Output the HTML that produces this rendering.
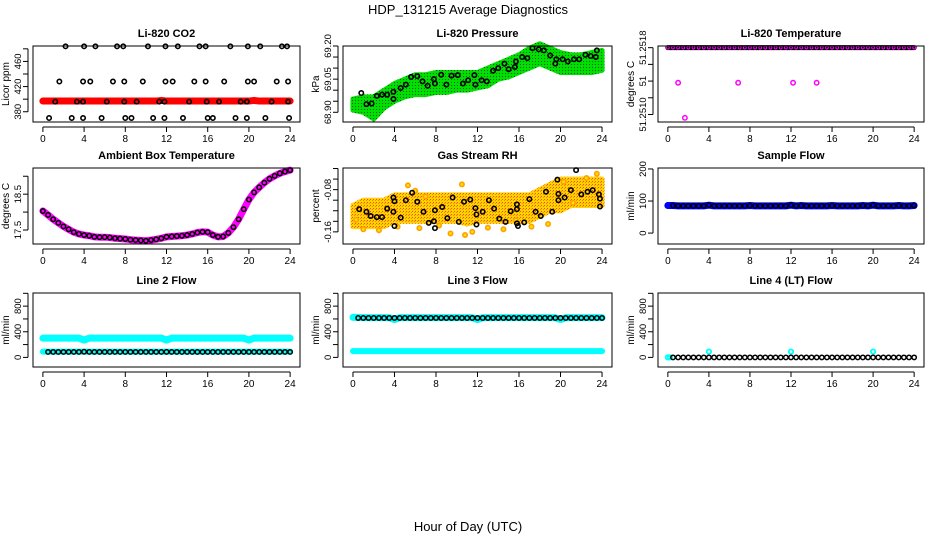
<!DOCTYPE html>
<html><head><meta charset="utf-8"><style>
body{margin:0;background:#fff;}
svg{display:block;font-family:"Liberation Sans",sans-serif;}
</style></head><body>
<svg id="c" width="936" height="540" viewBox="0 0 936 540" xmlns="http://www.w3.org/2000/svg">
<text x="468" y="14" text-anchor="middle" font-size="13">HDP_131215  Average Diagnostics</text>
<text x="468" y="531" text-anchor="middle" font-size="13">Hour of Day (UTC)</text>
</svg>
<script>
// ---------- data ----------
const xTicks = [0,4,8,12,16,20,24];
const halfHours = [0,0.5,1,1.5,2,2.5,3,3.5,4,4.5,5,5.5,6,6.5,7,7.5,8,8.5,9,9.5,10,10.5,11,11.5,12,12.5,13,13.5,14,14.5,15,15.5,16,16.5,17,17.5,18,18.5,19,19.5,20,20.5,21,21.5,22,22.5,23,23.5,24];
const hours = [0,1,2,3,4,5,6,7,8,9,10,11,12,13,14,15,16,17,18,19,20,21,22,23,24];

// CO2
const co2RedVals = [397,397,397,397,397,397,397,397,397,397,397,397,397,397,397,397,397,397,397,397,397,397,397,398,397,397,397,397,397,397,397,397,397,397,397,397,397,397,397,397,397,398,397,397,397,397,397,397,397];
const co2BlkHours = [2.2,4.0,5.1,7.2,7.8,10.2,11.9,13.1,15.2,15.8,18.2,19.9,21.1,23.2,23.7, 1.6,3.9,4.6,6.8,7.9,9.7,11.9,12.6,14.7,15.8,17.6,19.9,20.5,22.7,23.8, 1.2,3.3,3.9,6.2,7.9,9.1,11.3,11.8,14.2,15.9,17.1,19.2,19.8,22.2,23.8, 0.6,2.8,3.9,5.7,8.0,8.6,10.7,11.8,13.6,16.0,16.5,18.7,19.8,21.6,23.9];
const co2BlkVals = [484,484,484,484,484,484,484,484,484,484,484,484,484,484,484, 428,428,428,428,428,428,428,428,428,428,428,428,428,428,428, 396,396,396,396,396,396,396,396,396,396,396,396,396,396,396, 370,370,370,370,370,370,370,370,370,370,370,370,370,370,370];
const co2Ticks = [380,400,420,440,460,480];
const co2Labels = ["380","","420","","460",""];

// Pressure
const presLo = [68.91,68.90,68.87,68.92,68.95,68.97,68.98,68.98,68.99,68.99,69.00,69.00,69.01,69.02,69.05,69.06,69.08,69.10,69.12,69.10,69.08,69.08,69.08,69.08,69.09];
const presHi = [68.96,68.97,68.97,69.00,69.03,69.05,69.07,69.07,69.08,69.08,69.08,69.08,69.08,69.10,69.12,69.14,69.16,69.19,69.21,69.19,69.17,69.16,69.16,69.17,69.18];
const presBlkHours = [0.8,1.3,1.8,2.3,2.8,3.3,3.9,3.9,4.6,5.1,5.6,6.2,6.7,7.2,7.8,7.9,8.5,9.0,9.5,10.1,10.6,11.1,11.7,11.8,12.4,12.9,13.5,14.0,14.6,15.0,15.6,15.7,16.3,16.8,17.3,17.9,18.4,19.0,19.5,19.6,20.2,20.7,21.3,21.8,22.4,22.9,23.4,23.5];
const presBlkVals = [68.987,68.937,68.94,68.974,68.98,68.98,68.993,68.96,69.01,69.025,69.06,69.063,69.04,69.02,69.05,69.03,69.07,69.025,69.066,69.068,69.03,69.045,69.068,69.025,69.045,69.04,69.088,69.10,69.12,69.095,69.105,69.13,69.15,69.145,69.19,69.185,69.18,69.157,69.12,69.14,69.14,69.13,69.14,69.14,69.16,69.155,69.15,69.18];
const presTicks = [68.90,68.95,69.00,69.05,69.10,69.15,69.20];
const presLabels = ["68.90","","","69.05","","","69.20"];

// Li-820 temperature
const tempMainVals = [51.2518,51.2518,51.2518,51.2518,51.2518,51.2518,51.2518,51.2518,51.2518,51.2518,51.2518,51.2518,51.2518,51.2518,51.2518,51.2518,51.2518,51.2518,51.2518,51.2518,51.2518,51.2518,51.2518,51.2518,51.2518,51.2518,51.2518,51.2518,51.2518,51.2518,51.2518,51.2518,51.2518,51.2518,51.2518,51.2518,51.2518,51.2518,51.2518,51.2518,51.2518,51.2518,51.2518,51.2518,51.2518,51.2518,51.2518,51.2518,51.2518];
const tempOutHours = [1.0,6.85,12.2,14.5,1.66];
const tempOutVals = [51.25138,51.25138,51.25138,51.25138,51.25096];
const tempTicks = [51.2510,51.2512,51.2514,51.2516,51.2518];
const tempLabels = ["51.2510","","51","","51.2518"];

// Ambient box temperature
const ambVals = [18.03,17.92,17.80,17.70,17.60,17.52,17.44,17.39,17.36,17.34,17.31,17.30,17.30,17.29,17.27,17.26,17.25,17.23,17.22,17.21,17.20,17.22,17.24,17.27,17.31,17.32,17.33,17.34,17.36,17.39,17.43,17.45,17.44,17.36,17.31,17.32,17.42,17.58,17.80,18.08,18.35,18.55,18.69,18.82,18.93,19.01,19.08,19.13,19.17];
const ambTicks = [17.5,18.0,18.5,19.0];
const ambLabels = ["17.5","","18.5",""];

// RH
const rhLo = [-0.15,-0.15,-0.15,-0.15,-0.14,-0.14,-0.14,-0.14,-0.14,-0.14,-0.14,-0.145,-0.14,-0.14,-0.14,-0.14,-0.14,-0.14,-0.13,-0.12,-0.12,-0.11,-0.11,-0.11,-0.11];
const rhHi = [-0.11,-0.10,-0.10,-0.10,-0.09,-0.09,-0.09,-0.09,-0.09,-0.09,-0.09,-0.09,-0.09,-0.09,-0.09,-0.09,-0.09,-0.09,-0.08,-0.07,-0.06,-0.06,-0.06,-0.06,-0.06];
const rhOutHours = [0.3,1.0,2.5,4.3,5.3,6.4,7.0,8.3,9.4,10.5,11.5,13.0,14.5,15.7,17.2,18.8,20.3,21.2,22.5,23.5,6.0,10.8];
const rhOutVals = [-0.137,-0.155,-0.157,-0.15,-0.072,-0.153,-0.093,-0.148,-0.163,-0.07,-0.16,-0.152,-0.155,-0.138,-0.15,-0.145,-0.065,-0.105,-0.058,-0.05,-0.082,-0.166];
const rhBlkHours = [0.6,1.3,1.7,2.3,2.8,3.3,3.9,3.9,4.0,4.0,4.6,5.1,5.7,6.2,6.8,7.3,7.8,7.9,7.9,8.6,9.1,9.6,10.2,10.7,11.3,11.8,11.9,11.9,12.5,13.1,13.6,14.1,14.7,15.2,15.8,15.8,15.8,15.9,16.5,17.0,17.6,18.1,18.6,19.2,19.7,19.8,19.8,20.4,21.0,21.5,22.0,22.6,23.1,23.7,23.8,23.8];
const rhBlkVals = [-0.117,-0.122,-0.130,-0.132,-0.132,-0.116,-0.095,-0.122,-0.102,-0.149,-0.133,-0.100,-0.086,-0.103,-0.122,-0.143,-0.140,-0.119,-0.153,-0.113,-0.134,-0.095,-0.141,-0.103,-0.099,-0.115,-0.146,-0.127,-0.122,-0.100,-0.116,-0.135,-0.141,-0.121,-0.117,-0.108,-0.144,-0.149,-0.142,-0.098,-0.122,-0.130,-0.084,-0.122,-0.061,-0.088,-0.100,-0.095,-0.081,-0.043,-0.089,-0.084,-0.081,-0.089,-0.097,-0.112];
const rhTicks = [-0.16,-0.14,-0.12,-0.10,-0.08,-0.06,-0.04];
const rhLabels = ["-0.16","","","","-0.08","",""];

// Sample flow
const sampleVals = [86,86,85,85,85,85,85,85,87,85,85,85,85,85,85,85,86,85,85,85,85,85,85,85,87,85,86,85,85,85,85,85,86,85,85,85,85,85,86,85,87,85,85,85,85,86,85,85,86];
const sampleTicks = [0,100,200];
const sampleLabels = ["0","100","200"];

// Line flows
const flowTicks = [0,200,400,600,800,1000];
const flowLabels = ["0","","400","","800",""];
const line2High = [300,300,300,300,300,300,300,300,270,300,300,300,300,300,300,300,300,300,300,300,300,300,300,300,270,300,300,300,300,300,300,300,300,300,300,300,300,300,300,300,270,300,300,300,300,300,300,300,300];
const line2Low = [90,90,90,90,90,90,90,90,90,90,90,90,90,90,90,90,90,90,90,90,90,90,90,90,90,90,90,90,90,90,90,90,90,90,90,90,90,90,90,90,90,90,90,90,90,90,90,90,90];
const line2Blk = [85,85,85,85,85,85,85,85,88,85,85,85,85,85,85,85,85,85,85,85,85,85,85,85,86,85,85,85,85,85,85,85,85,85,85,85,85,85,85,85,85,85,85,85,85,85,85,85,85];
const line3High = [625,625,620,620,620,620,620,620,590,620,620,620,620,620,620,620,620,620,620,620,620,620,620,620,590,620,620,620,620,620,620,620,620,620,620,620,620,620,620,620,590,620,620,620,620,620,620,620,620];
const line3Low = [97,97,97,97,97,97,97,97,97,97,97,97,97,97,97,97,97,97,97,97,97,97,97,97,97,97,97,97,97,97,97,97,97,97,97,97,97,97,97,97,97,97,97,97,97,97,97,97,97];
const line3Blk = [615,615,615,615,615,615,615,615,615,615,615,615,615,615,615,615,615,615,615,615,615,615,615,615,615,615,615,615,615,615,615,615,615,615,615,615,615,615,615,615,615,615,615,615,615,615,615,615,615];
const line4Blk = [0,0,0,0,0,0,0,0,0,0,0,0,0,0,0,0,0,0,0,0,0,0,0,0,0,0,0,0,0,0,0,0,0,0,0,0,0,0,0,0,0,0,0,0,0,0,0,0,0];
const line4CyanHours = [0,0.2,4,12,20];
const line4CyanVals = [0,0,90,90,90];

// ---------- drawing ----------
const svg = document.getElementById('c');
const NS = 'http://www.w3.org/2000/svg';
function mk(tag, attrs, parent){
  const e = document.createElementNS(NS, tag);
  for (const k in attrs) e.setAttribute(k, attrs[k]);
  (parent||svg).appendChild(e);
  return e;
}
const defs = mk('defs', {});
const pg = mk('pattern', {id:'pgreen', width:3, height:3, patternUnits:'userSpaceOnUse'}, defs);
mk('rect', {width:3, height:3, fill:'#00e000'}, pg);
mk('rect', {x:1, y:1, width:1, height:1, fill:'#0a5a0a'}, pg);
const po = mk('pattern', {id:'porange', width:3, height:3, patternUnits:'userSpaceOnUse'}, defs);
mk('rect', {width:3, height:3, fill:'#ffd400'}, po);
mk('rect', {x:1, y:1, width:1, height:1, fill:'#ff4a00'}, po);
mk('rect', {x:0, y:2, width:1, height:1, fill:'#ff8000'}, po);

const cols = [[33,300],[343,612],[658,924]];
const rows = [[46,122],[168,244],[293,367]];

function panel(name, title, ylabel, col, row, ylo, yhi, ticks, labels){
  const [l,r] = cols[col], [t,b] = rows[row];
  const g = mk('g', {});
  
  
  const sx = h => l + (h + 0.96) / 25.92 * (r - l);
  const sy = v => b - (v - ylo) / (yhi - ylo) * (b - t);
  const tt = mk('text', {x:(l+r)/2, y:t-9, 'text-anchor':'middle', 'font-size':11, 'font-weight':'bold'}, g);
  tt.textContent = title;
  
  
  const yl = mk('text', {x:0, y:0, 'text-anchor':'middle', 'font-size':10, transform:`translate(${l-24},${(t+b)/2}) rotate(-90)`}, g);
  yl.textContent = ylabel;
  
  
  const plot = mk('g', {}, g);
  
  
  const ax = mk('g', {stroke:'#000', 'stroke-width':1}, g);
  
  
  mk('rect', {x:l, y:t, width:r-l, height:b-t, fill:'none'}, ax);
  mk('line', {x1:sx(0), x2:sx(24), y1:b+5, y2:b+5}, ax);
  xTicks.forEach(h => {
    mk('line', {x1:sx(h), x2:sx(h), y1:b+5, y2:b+10}, ax);
    const tx = mk('text', {x:sx(h), y:b+20, 'text-anchor':'middle', 'font-size':10, stroke:'none', fill:'#000'}, g);
    tx.textContent = h;
    
    
  });
  mk('line', {x1:l-5, x2:l-5, y1:sy(ticks[0]), y2:sy(ticks[ticks.length-1])}, ax);
  ticks.forEach((v,i) => {
    mk('line', {x1:l-10, x2:l-5, y1:sy(v), y2:sy(v)}, ax);
    if (labels[i]) {
      const ty = mk('text', {x:0, y:0, 'text-anchor':'middle', 'font-size':9.5, stroke:'none', fill:'#000', transform:`translate(${l-12},${sy(v)}) rotate(-90)`}, g);
      ty.textContent = labels[i];
      
      
    }
  });
  return {sx, sy, plot, name};
}
function points(p, xs, ys, color, r, sw, fill, nm){
  const g = mk('g', {}, p.plot);
  
  
  xs.forEach((h,i) => {
    const c = mk('circle', {cx:p.sx(h), cy:p.sy(ys[i]), r:r, fill:fill, stroke:color, 'stroke-width':sw}, g);
    
    
  });
}
function band(p, xs, lo, hi, fill, nm){
  let d = 'M' + xs.map((h,i)=>p.sx(h)+','+p.sy(hi[i])).join(' L');
  d += ' L' + xs.slice().reverse().map((h,i)=>p.sx(h)+','+p.sy(lo[xs.length-1-i])).join(' L') + ' Z';
  const e = mk('path', {d:d, fill:fill, stroke:fill, 'stroke-width':5, 'stroke-linejoin':'round'}, p.plot);
  
  
}
function line(p, xs, ys, color, w, nm){
  const e = mk('polyline', {points: xs.map((h,i)=>p.sx(h)+','+p.sy(ys[i])).join(' '), fill:'none', stroke:color, 'stroke-width':w, 'stroke-linecap':'round', 'stroke-linejoin':'round'}, p.plot);
  
  
}

let p = panel('co2', 'Li-820 CO2', 'Licor ppm', 0, 0, 363.7, 484.5, co2Ticks, co2Labels);
line(p, halfHours, co2RedVals, '#ff0000', 7, 'red-series');
points(p, co2BlkHours, co2BlkVals, '#000', 2.2, 1.6, 'none', 'black-series');

p = panel('pressure', 'Li-820 Pressure', 'kPa', 1, 0, 68.856, 69.2, presTicks, presLabels);
band(p, hours, presLo, presHi, 'url(#pgreen)', 'green-series');
points(p, presBlkHours, presBlkVals, '#000', 2.2, 1.6, 'none', 'black-series');

p = panel('licor-temp', 'Li-820 Temperature', 'degrees C', 2, 0, 51.25091, 51.25182, tempTicks, tempLabels);
line(p, halfHours, tempMainVals, '#000', 5, 'black-series');
points(p, halfHours, tempMainVals, '#ff00ff', 1.4, 1, 'none', 'magenta-series');
points(p, tempOutHours, tempOutVals, '#ff00ff', 2.2, 1.5, 'none', 'magenta-outliers');

p = panel('ambient-temp', 'Ambient Box Temperature', 'degrees C', 0, 1, 17.11, 19.23, ambTicks, ambLabels);
line(p, halfHours, ambVals, '#ff00ff', 7, 'magenta-series');
points(p, halfHours, ambVals, '#000', 2.2, 1.5, 'none', 'black-series');

p = panel('rh', 'Gas Stream RH', 'percent', 1, 1, -0.183, -0.039, rhTicks, rhLabels);
band(p, hours, rhLo, rhHi, 'url(#porange)', 'orange-series');
points(p, rhOutHours, rhOutVals, '#ffa000', 2.2, 1.6, '#ffe000', 'orange-outliers');
points(p, rhBlkHours, rhBlkVals, '#000', 2.2, 1.6, 'none', 'black-series');

p = panel('sample-flow', 'Sample Flow', 'ml/min', 2, 1, -34, 203, sampleTicks, sampleLabels);
line(p, halfHours, sampleVals, '#0000ff', 7, 'blue-series');
points(p, halfHours.slice(1), sampleVals.slice(1), '#000', 2.2, 1.5, 'none', 'black-series');

p = panel('line2-flow', 'Line 2 Flow', 'ml/min', 0, 2, -150, 1005, flowTicks, flowLabels);
line(p, halfHours, line2High, '#00ffff', 7, 'cyan-high-series');
line(p, halfHours, line2Low, '#00ffff', 6, 'cyan-low-series');
points(p, halfHours.slice(1), line2Blk.slice(1), '#000', 2.2, 1.5, 'none', 'black-series');

p = panel('line3-flow', 'Line 3 Flow', 'ml/min', 1, 2, -150, 1005, flowTicks, flowLabels);
line(p, halfHours, line3High, '#00ffff', 7, 'cyan-high-series');
line(p, halfHours, line3Low, '#00ffff', 6, 'cyan-low-series');
points(p, halfHours.slice(1), line3Blk.slice(1), '#000', 2.2, 1.5, 'none', 'black-series');

p = panel('line4-flow', 'Line 4 (LT) Flow', 'ml/min', 2, 2, -150, 1005, flowTicks, flowLabels);
points(p, line4CyanHours, line4CyanVals, '#00ffff', 2.2, 1.8, 'none', 'cyan-series');
points(p, halfHours.slice(1), line4Blk.slice(1), '#000', 2.2, 1.5, 'none', 'black-series');
</script>
</body></html>
